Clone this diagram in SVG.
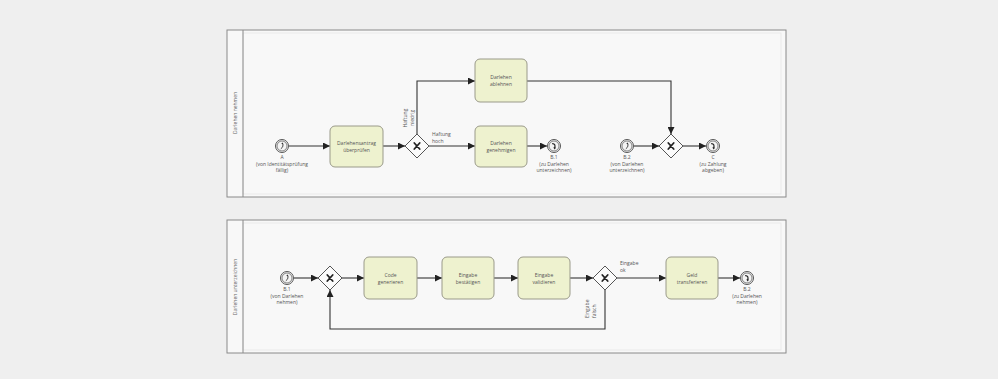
<svg xmlns="http://www.w3.org/2000/svg" width="998" height="379" viewBox="0 0 998 379">
<defs>
<marker id="arr" viewBox="0 0 10 10" refX="10" refY="5" markerWidth="7" markerHeight="7" markerUnits="userSpaceOnUse" orient="auto">
<path d="M0,0 L10,5 L0,10 z" fill="#222"/>
</marker>
<g id="catchIcon"><path d="M-1.2,2.8 C1.2,1.2 1.4,-1 0.4,-2.6" fill="none" stroke="#333" stroke-width="0.9"/><path d="M-0.8,-2.6 L0.9,-3.6 L1.4,-1.6 z" fill="#333"/></g>
<g id="throwIcon"><path d="M-1.8,-2.4 C0.8,-2.6 1.6,-0.6 0.6,2.2" fill="none" stroke="#222" stroke-width="1.2"/><path d="M-0.8,1.6 L0.8,3.4 L1.9,1.4 z" fill="#222"/></g>
</defs>
<style>
.pool{fill:#f8f8f8;stroke:#8a8a8a;stroke-width:1}
.inner{fill:none;stroke:#e6e6e6;stroke-width:0.8}
.lane{stroke:#8a8a8a;stroke-width:1}
.task{fill:#eef2cf;stroke:#9a9a8a;stroke-width:1}
.ev{fill:#f4f4f4;stroke:#555;stroke-width:1}
.ev2{fill:none;stroke:#555;stroke-width:0.7}
.gw{fill:#fbfbfb;stroke:#555;stroke-width:1}
.x{stroke:#222;stroke-width:1.8;stroke-linecap:round}
.flow{fill:none;stroke:#333;stroke-width:1.1;marker-end:url(#arr)}
.t{font-family:"Open Sans","DejaVu Sans",sans-serif;font-size:5px;fill:#555;text-anchor:middle}
.tl{font-family:"Open Sans","DejaVu Sans",sans-serif;font-size:5px;fill:#555}
.pl{font-family:"Open Sans","DejaVu Sans",sans-serif;font-size:5px;fill:#666;text-anchor:middle}
</style>
<rect x="0" y="0" width="998" height="379" fill="#efefef"/>

<g id="pool-nehmen">
<rect class="pool" x="227" y="30" width="559" height="167"/>
<rect class="inner" x="243" y="33" width="538" height="161"/>
<line class="lane" x1="243" y1="30" x2="243" y2="197"/>
<text class="pl" transform="translate(237,113) rotate(-90)">Darlehen nehmen</text>
</g>
<g id="pool-unterzeichnen">
<rect class="pool" x="227" y="220" width="559" height="133"/>
<rect class="inner" x="243" y="223" width="538" height="127"/>
<line class="lane" x1="243" y1="220" x2="243" y2="353"/>
<text class="pl" transform="translate(237,287) rotate(-90)">Darlehen unterzeichnen</text>
</g>

<g id="connectors">
<path class="flow" d="M289,146 L330,146"/>
<path class="flow" d="M383,146 L405,146"/>
<path class="flow" d="M417,134 L417,81 L475,81"/>
<path class="flow" d="M429,146 L475,146"/>
<path class="flow" d="M527,146 L547,146"/>
<path class="flow" d="M527,81 L671,81 L671,134"/>
<path class="flow" d="M634,146 L659,146"/>
<path class="flow" d="M683,146 L706,146"/>
<path class="flow" d="M294,278 L318,278"/>
<path class="flow" d="M342,278 L364,278"/>
<path class="flow" d="M417,278 L442,278"/>
<path class="flow" d="M494,278 L518,278"/>
<path class="flow" d="M570,278 L593,278"/>
<path class="flow" d="M617,278 L666,278"/>
<path class="flow" d="M718,278 L740,278"/>
<path class="flow" d="M605,290 L605,329 L330,329 L330,290"/>
<g class="tl">
<text transform="translate(407,118) rotate(-90)" text-anchor="middle">Haftung</text>
<text transform="translate(413.5,118) rotate(-90)" text-anchor="middle">niedrig</text>
<text x="432" y="136">Haftung</text>
<text x="432" y="142.5">hoch</text>
<text x="620" y="265">Eingabe</text>
<text x="620" y="271.5">ok</text>
<text transform="translate(589,318) rotate(-90)">Eingabe</text>
<text transform="translate(595.5,318) rotate(-90)">falsch</text>
</g>
</g>

<g id="ev-A">
<circle class="ev" cx="282" cy="146" r="6.5"/><circle class="ev2" cx="282" cy="146" r="5"/>
<use href="#catchIcon" x="282" y="146"/>
<text class="t" x="282" y="159">A</text>
<text class="t" x="282" y="165.5">(von Identitätsprüfung</text>
<text class="t" x="282" y="172">fällig)</text>
</g>
<g id="task-ueberpruefen">
<rect class="task" x="330" y="126" width="53" height="41" rx="5"/>
<text class="t" x="356.5" y="145">Darlehensantrag</text>
<text class="t" x="356.5" y="151.5">überprüfen</text>
</g>
<g id="gw-haftung">
<path class="gw" d="M417,134 L429,146 L417,158 L405,146 z"/>
<path class="x" d="M414.3,143 L419.7,149 M419.7,143 L414.3,149"/>
</g>
<g id="task-ablehnen">
<rect class="task" x="475" y="59" width="52" height="43" rx="5"/>
<text class="t" x="501" y="79">Darlehen</text>
<text class="t" x="501" y="85.5">ablehnen</text>
</g>
<g id="task-genehmigen">
<rect class="task" x="475" y="126" width="52" height="41" rx="5"/>
<text class="t" x="501" y="145">Darlehen</text>
<text class="t" x="501" y="151.5">genehmigen</text>
</g>
<g id="ev-B1-throw">
<circle class="ev" cx="554" cy="146" r="6.5"/><circle class="ev2" cx="554" cy="146" r="5"/>
<use href="#throwIcon" x="554" y="146"/>
<text class="t" x="554" y="159">B.1</text>
<text class="t" x="554" y="165.5">(zu Darlehen</text>
<text class="t" x="554" y="172">unterzeichnen)</text>
</g>
<g id="ev-B2-catch">
<circle class="ev" cx="627" cy="146" r="6.5"/><circle class="ev2" cx="627" cy="146" r="5"/>
<use href="#catchIcon" x="627" y="146"/>
<text class="t" x="627" y="159">B.2</text>
<text class="t" x="627" y="165.5">(von Darlehen</text>
<text class="t" x="627" y="172">unterzeichnen)</text>
</g>
<g id="gw-merge">
<path class="gw" d="M671,134 L683,146 L671,158 L659,146 z"/>
<path class="x" d="M668.3,143 L673.7,149 M673.7,143 L668.3,149"/>
</g>
<g id="ev-C">
<circle class="ev" cx="713" cy="146" r="6.5"/><circle class="ev2" cx="713" cy="146" r="5"/>
<use href="#throwIcon" x="713" y="146"/>
<text class="t" x="713" y="159">C</text>
<text class="t" x="713" y="165.5">(zu Zahlung</text>
<text class="t" x="713" y="172">abgeben)</text>
</g>

<g id="ev-B1-catch">
<circle class="ev" cx="287" cy="278" r="6.5"/><circle class="ev2" cx="287" cy="278" r="5"/>
<use href="#catchIcon" x="287" y="278"/>
<text class="t" x="287" y="291">B.1</text>
<text class="t" x="287" y="297.5">(von Darlehen</text>
<text class="t" x="287" y="304">nehmen)</text>
</g>
<g id="gw-loop">
<path class="gw" d="M330,266 L342,278 L330,290 L318,278 z"/>
<path class="x" d="M327.3,275 L332.7,281 M332.7,275 L327.3,281"/>
</g>
<g id="task-code">
<rect class="task" x="364" y="257" width="53" height="42" rx="5"/>
<text class="t" x="390.5" y="277">Code</text>
<text class="t" x="390.5" y="283.5">generieren</text>
</g>
<g id="task-bestaetigen">
<rect class="task" x="442" y="257" width="52" height="42" rx="5"/>
<text class="t" x="468" y="277">Eingabe</text>
<text class="t" x="468" y="283.5">bestätigen</text>
</g>
<g id="task-validieren">
<rect class="task" x="518" y="257" width="52" height="42" rx="5"/>
<text class="t" x="544" y="277">Eingabe</text>
<text class="t" x="544" y="283.5">validieren</text>
</g>
<g id="gw-eingabe">
<path class="gw" d="M605,266 L617,278 L605,290 L593,278 z"/>
<path class="x" d="M602.3,275 L607.7,281 M607.7,275 L602.3,281"/>
</g>
<g id="task-geld">
<rect class="task" x="666" y="257" width="52" height="42" rx="5"/>
<text class="t" x="692" y="277">Geld</text>
<text class="t" x="692" y="283.5">transferieren</text>
</g>
<g id="ev-B2-throw">
<circle class="ev" cx="747" cy="278" r="6.5"/><circle class="ev2" cx="747" cy="278" r="5"/>
<use href="#throwIcon" x="747" y="278"/>
<text class="t" x="747" y="291">B.2</text>
<text class="t" x="747" y="297.5">(zu Darlehen</text>
<text class="t" x="747" y="304">nehmen)</text>
</g>
</svg>
